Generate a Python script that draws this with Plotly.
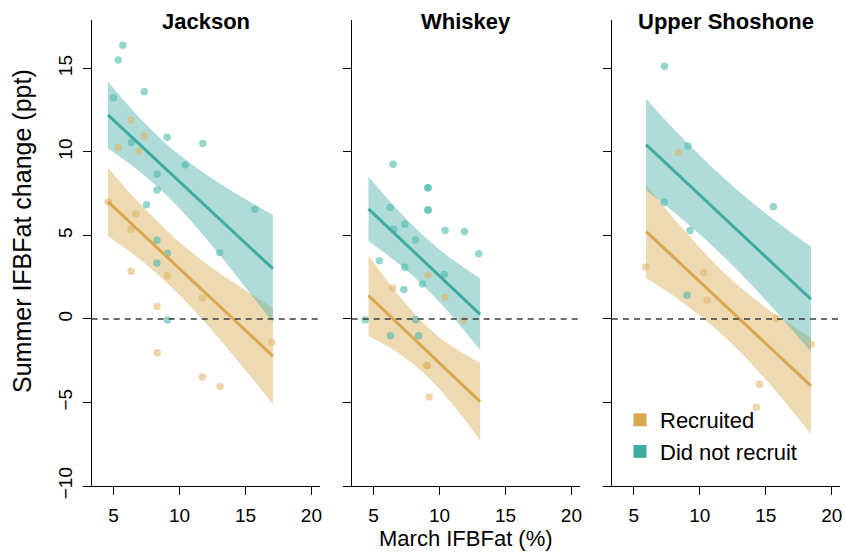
import plotly.graph_objects as go

# ---- Jackson ----
jackson_rec_x = [4.6, 6.32, 7.33, 5.36, 6.92, 6.70, 6.32, 6.34, 9.09, 11.74, 8.31, 8.31, 11.74, 13.08, 17.0]
jackson_rec_y = [7.0, 11.92, 10.96, 10.26, 10.02, 6.29, 5.37, 2.86, 2.59, 1.26, 0.74, -2.02, -3.47, -4.05, -1.40]
jackson_non_x = [5.71, 5.36, 5.0, 7.33, 9.07, 6.36, 11.77, 10.43, 8.31, 8.31, 7.5, 15.73, 13.06, 9.09, 8.29, 9.09, 8.29]
jackson_non_y = [16.39, 15.51, 13.25, 13.61, 10.88, 10.56, 10.50, 9.24, 8.68, 7.72, 6.84, 6.57, 3.97, -0.06, 4.71, 3.93, 3.35]
jackson_rec_fit_x = [4.58, 17.08]
jackson_rec_fit_y = [7.02, -2.22]
jackson_non_fit_x = [4.58, 17.08]
jackson_non_fit_y = [12.22, 3.01]
jackson_rec_band_x = [4.58, 7.0, 9.5, 12.0, 14.5, 17.08]
jackson_rec_band_hi = [9.06, 6.91, 4.96, 3.34, 1.97, 0.67]
jackson_rec_band_lo = [4.96, 3.57, 1.82, -0.26, -2.59, -5.11]
jackson_non_band_x = [4.58, 7.0, 9.5, 12.0, 14.5, 17.08]
jackson_non_band_hi = [14.21, 12.04, 10.15, 8.67, 7.41, 6.23]
jackson_non_band_lo = [10.21, 8.82, 7.03, 4.83, 2.40, -0.21]

# ---- Whiskey ----
whiskey_rec_x = [9.14, 6.46, 10.40, 11.82, 9.07, 9.05, 9.22]
whiskey_rec_y = [2.63, 1.86, 1.30, -0.08, -2.78, -2.78, -4.67]
whiskey_non_x = [6.49, 9.14, 9.12, 9.14, 9.12, 6.27, 7.37, 6.52, 10.43, 11.89, 8.18, 12.98,
                 5.45, 7.37, 10.36, 8.71, 7.30, 4.37, 8.2, 6.29, 8.41]
whiskey_non_y = [9.26, 7.86, 7.86, 6.53, 6.53, 6.67, 5.67, 5.37, 5.29, 5.23, 4.73, 3.91,
                 3.49, 3.09, 2.67, 2.10, 1.76, -0.04, -0.04, -1.0, -1.0]
whiskey_rec_fit_x = [4.62, 13.08]
whiskey_rec_fit_y = [1.40, -4.95]
whiskey_non_fit_x = [4.62, 13.08]
whiskey_non_fit_y = [6.59, 0.28]
whiskey_rec_band_x = [4.62, 6.5, 9.0, 11.0, 13.08]
whiskey_rec_band_hi = [3.82, 1.83, -0.40, -1.67, -2.63]
whiskey_rec_band_lo = [-1.02, -1.85, -3.38, -5.11, -7.27]
whiskey_non_band_x = [4.62, 6.5, 8.5, 10.5, 13.08]
whiskey_non_band_hi = [8.53, 6.82, 5.20, 3.84, 2.43]
whiskey_non_band_lo = [4.65, 3.56, 2.20, 0.58, -1.87]

# ---- Upper Shoshone ----
shoshone_rec_x = [8.39, 5.89, 10.30, 10.55, 15.78, 18.44, 14.52, 14.29]
shoshone_rec_y = [9.96, 3.11, 2.77, 1.12, 0.04, -1.51, -3.91, -5.29]
shoshone_non_x = [7.33, 9.11, 7.30, 15.58, 9.27, 9.04]
shoshone_non_y = [15.13, 10.36, 6.99, 6.72, 5.29, 1.42]
shoshone_rec_fit_x = [5.93, 18.43]
shoshone_rec_fit_y = [5.25, -4.01]
shoshone_non_fit_x = [5.93, 18.43]
shoshone_non_fit_y = [10.44, 1.18]
shoshone_rec_band_x = [5.93, 8.5, 12.0, 15.0, 18.43]
shoshone_rec_band_hi = [8.05, 5.59, 2.65, 0.69, -1.12]
shoshone_rec_band_lo = [2.45, 1.11, -1.15, -3.63, -6.90]
shoshone_non_band_x = [5.93, 8.0, 10.5, 13.0, 15.5, 18.43]
shoshone_non_band_hi = [13.19, 11.40, 9.41, 7.61, 6.02, 4.33]
shoshone_non_band_lo = [7.69, 6.42, 4.71, 2.79, 0.68, -1.97]

panel_titles = ["Jackson", "Whiskey", "Upper Shoshone"]
group_names = ["Recruited", "Did not recruit"]
x_ticks = [5, 10, 15, 20]
y_ticks = [-10, -5, 0, 5, 10, 15]

# ---- styling ----
FONT = "Liberation Sans, Arial, sans-serif"
GOLD_LINE = "rgb(218,168,78)"
TEAL_LINE = "rgb(62,170,160)"
GOLD_BAND = "rgba(215,172,85,0.45)"
TEAL_BAND = "rgba(77,178,168,0.45)"
GOLD_PT = "rgba(224,180,100,0.55)"
TEAL_PT = "rgba(78,186,175,0.6)"

W, H = 846, 552
x_domains_px = [(91.7, 320.0), (351.7, 580.0), (612.0, 840.3)]
y_top_px, y_bot_px = 20.0, 486.0
y_domain = [1 - y_bot_px / H, 1 - y_top_px / H]

panels = [
    dict(rec=(jackson_rec_x, jackson_rec_y), non=(jackson_non_x, jackson_non_y),
         rec_fit=(jackson_rec_fit_x, jackson_rec_fit_y), non_fit=(jackson_non_fit_x, jackson_non_fit_y),
         rec_band=(jackson_rec_band_x, jackson_rec_band_lo, jackson_rec_band_hi),
         non_band=(jackson_non_band_x, jackson_non_band_lo, jackson_non_band_hi)),
    dict(rec=(whiskey_rec_x, whiskey_rec_y), non=(whiskey_non_x, whiskey_non_y),
         rec_fit=(whiskey_rec_fit_x, whiskey_rec_fit_y), non_fit=(whiskey_non_fit_x, whiskey_non_fit_y),
         rec_band=(whiskey_rec_band_x, whiskey_rec_band_lo, whiskey_rec_band_hi),
         non_band=(whiskey_non_band_x, whiskey_non_band_lo, whiskey_non_band_hi)),
    dict(rec=(shoshone_rec_x, shoshone_rec_y), non=(shoshone_non_x, shoshone_non_y),
         rec_fit=(shoshone_rec_fit_x, shoshone_rec_fit_y), non_fit=(shoshone_non_fit_x, shoshone_non_fit_y),
         rec_band=(shoshone_rec_band_x, shoshone_rec_band_lo, shoshone_rec_band_hi),
         non_band=(shoshone_non_band_x, shoshone_non_band_lo, shoshone_non_band_hi)),
]

fig = go.Figure()
layout = dict(
    width=W, height=H, autosize=False,
    margin=dict(l=0, r=0, t=0, b=0, pad=0),
    paper_bgcolor="white", plot_bgcolor="white",
    font=dict(family=FONT, color="black"),
    showlegend=True,
    annotations=[], shapes=[],
)

for i, p in enumerate(panels):
    n = "" if i == 0 else str(i + 1)
    xa, ya = "x" + n, "y" + n

    # confidence bands (lower edge, then upper edge filled down to it)
    for key, fill in (("rec_band", GOLD_BAND), ("non_band", TEAL_BAND)):
        bx, lo, hi = p[key]
        fig.add_trace(go.Scatter(x=bx, y=lo, mode="lines", line=dict(width=0, shape="spline"),
                                 hoverinfo="skip", showlegend=False, xaxis=xa, yaxis=ya))
        fig.add_trace(go.Scatter(x=bx, y=hi, mode="lines", line=dict(width=0, shape="spline"),
                                 fill="tonexty", fillcolor=fill,
                                 hoverinfo="skip", showlegend=False, xaxis=xa, yaxis=ya))

    # observations
    for key, col in (("rec", GOLD_PT), ("non", TEAL_PT)):
        px_, py_ = p[key]
        fig.add_trace(go.Scatter(x=px_, y=py_, mode="markers",
                                 marker=dict(size=7.5, color=col, line=dict(width=0)),
                                 showlegend=False, xaxis=xa, yaxis=ya))

    # fitted lines
    for key, col in (("rec_fit", GOLD_LINE), ("non_fit", TEAL_LINE)):
        fx, fy = p[key]
        fig.add_trace(go.Scatter(x=fx, y=fy, mode="lines", line=dict(color=col, width=3),
                                 showlegend=False, xaxis=xa, yaxis=ya))

    x0, x1 = x_domains_px[i]
    layout["xaxis" + n] = dict(
        domain=[x0 / W, x1 / W], anchor=ya, range=[3.35, 20.65],
        tickvals=x_ticks, showline=True, linecolor="black", linewidth=1.2,
        ticks="outside", ticklen=8, tickwidth=1.2, tickcolor="black",
        tickfont=dict(size=19, family=FONT, color="black"),
        showgrid=False, zeroline=False, ticklabelstandoff=4, automargin=False,
    )
    layout["yaxis" + n] = dict(
        domain=y_domain, anchor=xa, range=[-10, 17.9],
        tickvals=y_ticks, showline=True, linecolor="black", linewidth=1.2,
        ticks="outside", ticklen=8, tickwidth=1.2, tickcolor="black",
        showticklabels=(i == 0), tickangle=-90,
        tickfont=dict(size=19, family=FONT, color="black"),
        showgrid=False, zeroline=False, ticklabelstandoff=3, automargin=False,
    )

    # zero reference line
    layout["shapes"].append(dict(
        type="line", xref=xa + " domain", yref=ya, x0=0, x1=1, y0=0, y1=0,
        line=dict(color="#3c3c3c", width=1.5, dash="6px,5px"), layer="above",
    ))

    # panel title
    layout["annotations"].append(dict(
        text="<b>" + panel_titles[i] + "</b>", xref="paper", yref="paper",
        x=(x0 + x1) / 2 / W, y=1 - 21 / H, xanchor="center", yanchor="middle",
        showarrow=False, font=dict(size=22, family=FONT, color="black"),
    ))

# axis titles
layout["annotations"].append(dict(
    text="March IFBFat (%)", xref="paper", yref="paper",
    x=466 / W, y=1 - 538 / H, xanchor="center", yanchor="middle",
    showarrow=False, font=dict(size=22, family=FONT, color="black"),
))
layout["annotations"].append(dict(
    text="Summer IFBFat change (ppt)", xref="paper", yref="paper",
    x=22 / W, y=1 - 231 / H, xanchor="center", yanchor="middle", textangle=-90,
    showarrow=False, font=dict(size=25, family=FONT, color="black"),
))

# legend entries
for name, col in zip(group_names, (GOLD_LINE, TEAL_LINE)):
    fig.add_trace(go.Scatter(x=[None], y=[None], mode="markers", name=name,
                             marker=dict(symbol="square", size=13, color=col),
                             xaxis="x3", yaxis="y3"))

layout["legend"] = dict(
    x=620 / W, y=1 - 399 / H, xanchor="left", yanchor="top",
    traceorder="normal",
    bgcolor="rgba(0,0,0,0)", borderwidth=0,
    font=dict(size=22, family=FONT, color="black"),
    itemclick=False, itemdoubleclick=False,
)

fig.update_layout(**layout)
fig.write_html("out.html", config={"responsive": False})
